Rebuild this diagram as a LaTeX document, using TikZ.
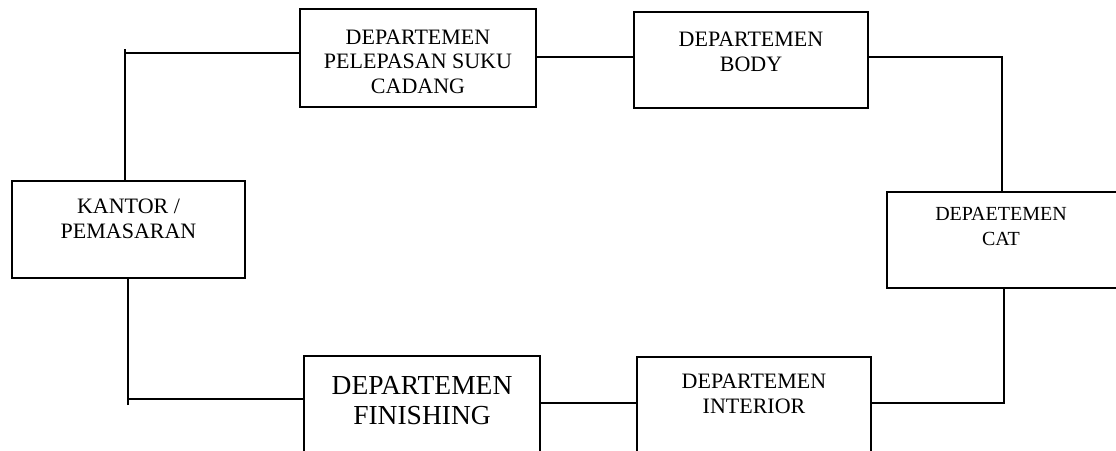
\documentclass[tikz,border=0pt]{standalone}
\usepackage{fontspec}
\setmainfont{Liberation Serif}
\begin{document}
\begin{tikzpicture}[x=1pt,y=-1pt,
  box/.style={draw=black, line width=1.8pt, rectangle, inner sep=0pt},
  lbl/.style={anchor=north, inner sep=0pt, align=center, font=\fontsize{22}{24.5}\selectfont},
  biglbl/.style={anchor=north, inner sep=0pt, align=center, font=\fontsize{27.5}{30.5}\selectfont},
  conn/.style={draw=black, line width=1.8pt}]
\useasboundingbox[fill=white] (0,0) rectangle (1116,450);
\clip (0,0) rectangle (1116,450);
% boxes
\node[box, minimum width=233pt, minimum height=97pt] (kan) at (128.5,229.5) {};
\node[box, minimum width=236pt, minimum height=98pt] (pel) at (418,58) {};
\node[box, minimum width=234pt, minimum height=96pt] (bod) at (751,60) {};
\node[box, minimum width=231pt, minimum height=96pt] (cat) at (1002.5,240) {};
\node[box, minimum width=236pt, minimum height=104pt] (fin) at (422,408) {};
\node[box, minimum width=234pt, minimum height=103pt] (int) at (754,408.5) {};
% labels
\node[lbl] (kant) at ([yshift=-19pt]kan.north) {KANTOR /\\PEMASARAN};
\node[lbl] (pelt) at ([yshift=-21.5pt]pel.north) {DEPARTEMEN\\PELEPASAN SUKU\\CADANG};
\node[lbl] (bodt) at ([yshift=-21pt]bod.north) {DEPARTEMEN\\BODY};
\node[lbl, font=\fontsize{20}{25}\selectfont] (catt) at ([xshift=-1.5pt,yshift=-16pt]cat.north) {DEPAETEMEN\\CAT};
\node[biglbl] (fint) at ([yshift=-21pt]fin.north) {DEPARTEMEN\\FINISHING};
\node[lbl] (intt) at ([yshift=-18pt]int.north) {DEPARTEMEN\\INTERIOR};
% connector coordinates
\coordinate (k1) at (125,49);
\coordinate (ka) at (125,53);
\coordinate (pb) at (0,57);
\coordinate (bc) at (1002,57);
\coordinate (ci) at (1004,403);
\coordinate (fk) at (128,399);
\coordinate (fks) at (128,405);
% connectors
\draw[conn] (kan.north -| k1) -- (k1);
\draw[conn] (pel.west |- ka) -- (ka);
\draw[conn] (pel.east |- pb) -- (bod.west |- pb);
\draw[conn] (bod.east |- bc) -- (bc) -- (cat.north -| bc);
\draw[conn] (cat.south -| ci) -- (ci) -- (int.east |- ci);
\draw[conn] (int.west |- ci) -- (fin.east |- ci);
\draw[conn] (fin.west |- fk) -- (fk);
\draw[conn] (fks) -- (kan.south -| fks);
\end{tikzpicture}
\end{document}
